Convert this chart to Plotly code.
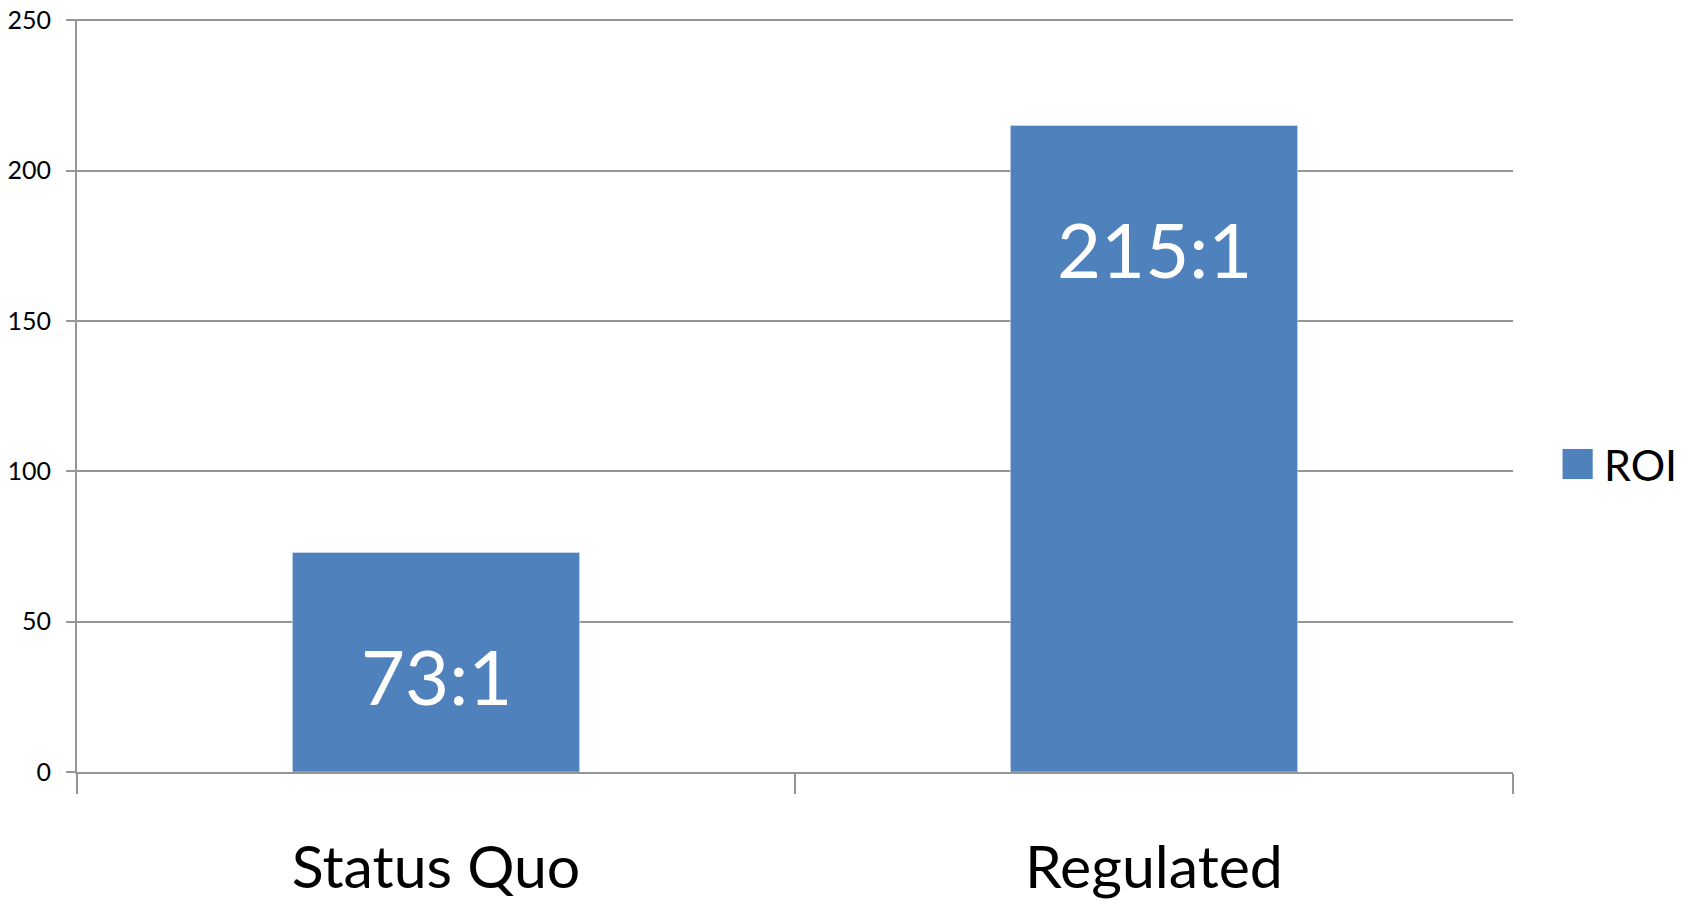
import plotly.graph_objects as go

categories = ['Status Quo', 'Regulated']
roi = [73, 215]
labels = ['73:1', '215:1']
yticks = [0, 50, 100, 150, 200, 250]

bar_color = '#4F81BD'
grid_color = '#969696'
font = 'Lato'

fig = go.Figure()
fig.add_trace(go.Bar(
    x=categories, y=roi, name='ROI', marker_color=bar_color,
    width=0.4, showlegend=False,
))

# value labels sit near the top inside each bar
for c, v, t in zip(categories, roi, labels):
    fig.add_annotation(x=c, y=v, text=t, showarrow=False, yanchor='top',
                       yshift=-76, font=dict(family=font, size=76, color='white'))

# legend key drawn by hand so the swatch can be large
fig.add_shape(type='rect', xref='paper', yref='paper',
              x0=1.0345, x1=1.0555, y0=0.389, y1=0.429,
              fillcolor=bar_color, line_width=0)
fig.add_annotation(xref='paper', yref='paper', x=1.062, y=0.409, text='ROI',
                   showarrow=False, xanchor='left', yanchor='middle',
                   font=dict(family=font, size=43, color='black'))

fig.update_xaxes(showline=True, linecolor=grid_color, linewidth=2,
                 ticks='outside', tickson='boundaries', ticklen=20,
                 tickcolor=grid_color, tickwidth=2, automargin=False,
                 ticklabelstandoff=43,
                 tickfont=dict(family=font, size=59, color='black'))
fig.update_yaxes(range=[0, 250.4], tickvals=yticks, showgrid=True,
                 gridcolor=grid_color, gridwidth=2, zeroline=False,
                 showline=True, linecolor=grid_color, linewidth=2,
                 ticks='outside', ticklen=9, tickcolor=grid_color, tickwidth=2,
                 automargin=False, ticklabelstandoff=10,
                 ticklabeloverflow='allow',
                 tickfont=dict(family=font, size=25, color='black'))
fig.update_layout(width=1698, height=904, plot_bgcolor='white',
                  paper_bgcolor='white',
                  margin=dict(l=77, r=185, t=19, b=132))

fig.write_html('out.html', config={'displayModeBar': False},
               post_script="document.body.style.margin='0';")
